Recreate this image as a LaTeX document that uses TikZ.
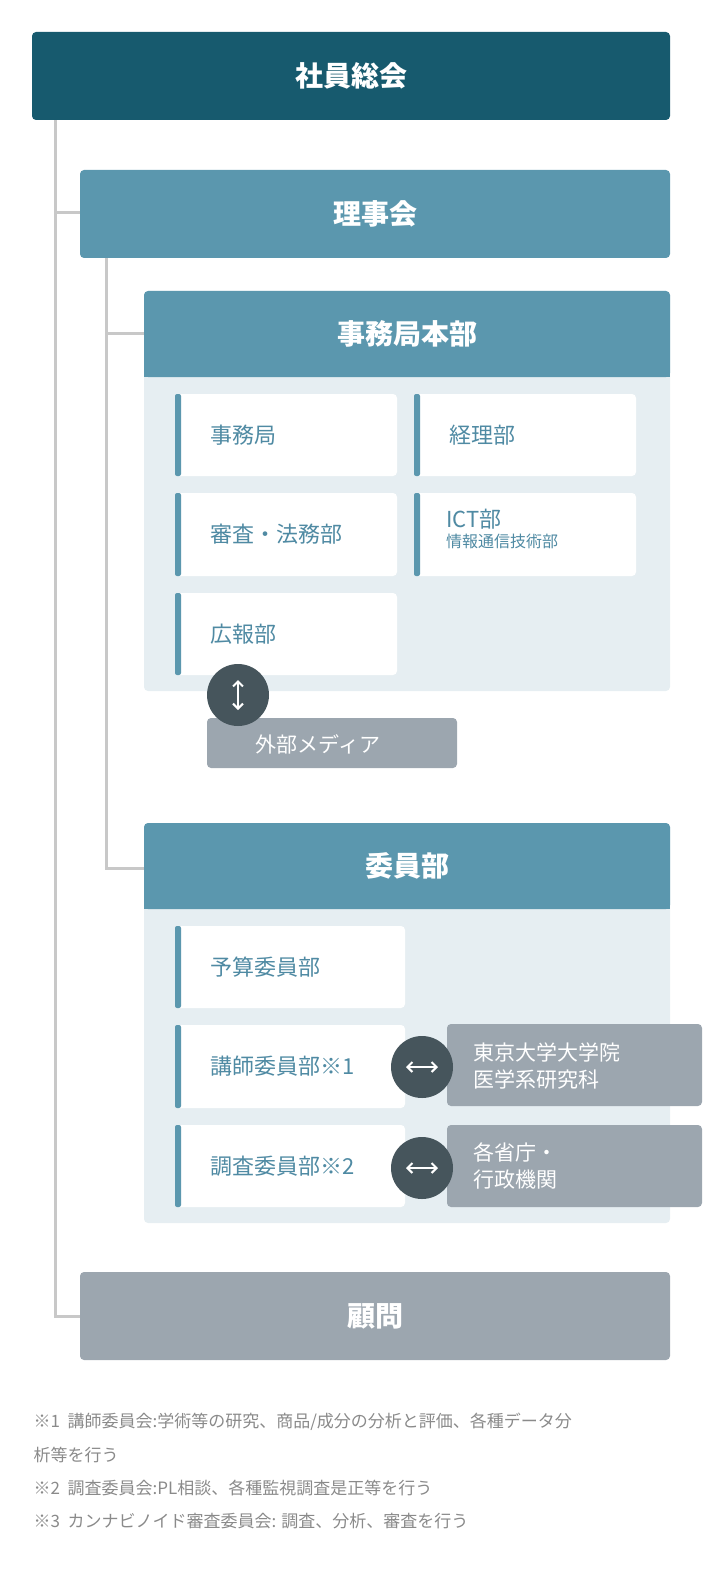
\documentclass[tikz,border=0pt]{standalone}
\usepackage{fontspec}
\setmainfont{Noto Sans CJK JP}
\usetikzlibrary{arrows.meta}
\definecolor{deepteal}{HTML}{175A6E}
\definecolor{midteal}{HTML}{5B97AE}
\definecolor{panelbg}{HTML}{E6EEF2}
\definecolor{mutegray}{HTML}{9CA6AF}
\definecolor{knob}{HTML}{46555C}
\definecolor{wire}{HTML}{C8C8C8}
\definecolor{unittext}{HTML}{4F8AA3}
\definecolor{notetext}{HTML}{8A8A8A}
\tikzset{
  headbox/.style={rounded corners=4pt, fill=#1},
  headtext/.style={text=white, font=\fontsize{28}{32}\selectfont\bfseries},
  unitlabel/.style={anchor=west, text=unittext, font=\fontsize{22}{26}\selectfont},
  knobcirc/.style={circle, fill=knob, minimum size=62pt, inner sep=0pt},
  tag/.style={anchor=west, text=white, align=left, font=\fontsize{21}{27}\selectfont},
  note/.style={anchor=west, text=notetext, font=\fontsize{17}{20}\selectfont},
}
% small unit box with accent bar
\newcommand{\unitbox}[5]{%
  \fill[white, rounded corners=4pt] (#1,#2) rectangle (#3,#4);
  \fill[midteal, rounded corners=2pt] (#1,#2) rectangle (#1+6,#4);
  \node[unitlabel] at (#1+32,{(#2+#4)/2}) {#5};
}
\begin{document}
\begin{tikzpicture}[x=1pt, y=-1pt]
  \useasboundingbox (0,0) rectangle (706,1578);

  % -- connecting lines --
  \draw[wire, line width=3pt] (55,120) -- (55,1316) -- (80,1316);
  \draw[wire, line width=3pt] (55,213) -- (80,213);
  \draw[wire, line width=3pt] (106,258) -- (106,868) -- (144,868);
  \draw[wire, line width=3pt] (106,333) -- (144,333);

  % -- top levels --
  \fill[headbox=deepteal] (32,32) rectangle (670,120);
  \node[headtext] (soukai) at (351,76) {社員総会};
  \fill[headbox=midteal] (80,170) rectangle (670,258);
  \node[headtext] (rijikai) at (375,214) {理事会};

  % -- 事務局本部 --
  \fill[panelbg, rounded corners=4pt] (144,291) rectangle (670,691);
  \fill[midteal, rounded corners=4pt] (144,291) rectangle (670,377);
  \fill[midteal] (144,360) rectangle (670,377);
  \node[headtext] (honbu) at (407,334) {事務局本部};
  \unitbox{175}{394}{397}{476}{事務局}
  \unitbox{414}{394}{636}{476}{経理部}
  \unitbox{175}{493}{397}{576}{審査・法務部}
  \fill[white, rounded corners=4pt] (414,493) rectangle (636,576);
  \fill[midteal, rounded corners=2pt] (414,493) rectangle (420,576);
  \node[unitlabel, anchor=north west, align=left, inner sep=0pt] (ict) at (446,509)
    {ICT部\\[-6pt]{\fontsize{16}{20}\selectfont 情報通信技術部}};
  \unitbox{175}{593}{397}{675}{広報部}

  \fill[mutegray, rounded corners=4pt] (207,718) rectangle (457,768);
  \node[tag] (media) at (252,744) {外部メディア};
  \node[knobcirc] (mknob) at (238,695) {};
  \draw[white, line width=2pt, {Straight Barb[length=5pt]}-{Straight Barb[length=5pt]}] (238,680) -- (238,710);

  % -- 委員部 --
  \fill[panelbg, rounded corners=4pt] (144,823) rectangle (670,1223);
  \fill[midteal, rounded corners=4pt] (144,823) rectangle (670,909);
  \fill[midteal] (144,890) rectangle (670,909);
  \node[headtext] (iinbu) at (407,866) {委員部};
  \unitbox{175}{926}{405}{1008}{予算委員部}
  \unitbox{175}{1025}{405}{1108}{講師委員部※1}
  \unitbox{175}{1125}{405}{1207}{調査委員部※2}

  \fill[mutegray, rounded corners=4pt] (447,1024) rectangle (702,1106);
  \node[tag] (todai) at (470,1066) {東京大学大学院\\医学系研究科};
  \fill[mutegray, rounded corners=4pt] (447,1125) rectangle (702,1207);
  \node[tag] (kancho) at (470,1166) {各省庁・\\行政機関};
  \foreach \cy in {1067,1168}{
    \node[knobcirc] at (422,\cy) {};
    \draw[white, line width=2pt, {Straight Barb[length=5pt]}-{Straight Barb[length=5pt]}] (406,\cy) -- (438,\cy);
  }

  % -- 顧問 --
  \fill[headbox=mutegray] (80,1272) rectangle (670,1360);
  \node[headtext] (komon) at (375,1316) {顧問};

  % -- notes --
  \node[note] at (30,1422) {※1\ \ 講師委員会:学術等の研究、商品/成分の分析と評価、各種データ分};
  \node[note] at (30,1455) {析等を行う};
  \node[note] at (30,1488) {※2\ \ 調査委員会:PL相談、各種監視調査是正等を行う};
  \node[note] at (30,1521) {※3\ \ カンナビノイド審査委員会: 調査、分析、審査を行う};
\end{tikzpicture}
\end{document}
